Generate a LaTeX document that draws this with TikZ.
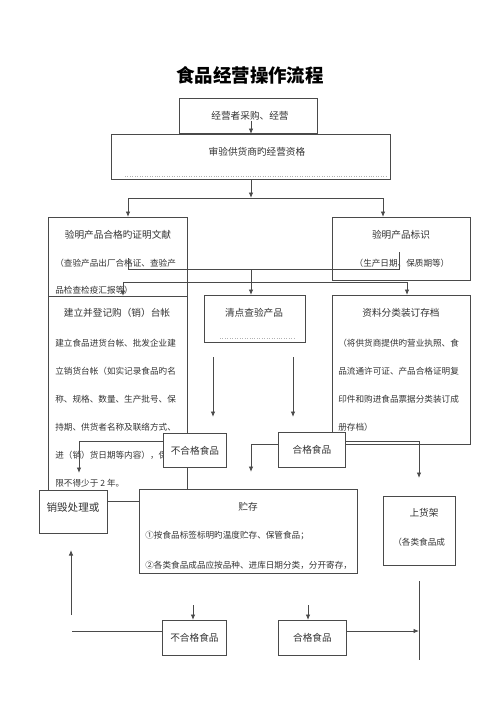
\documentclass[tikz,border=0pt]{standalone}
\usepackage{fontspec}
\setmainfont{Noto Sans CJK SC}
\usetikzlibrary{arrows.meta}
\definecolor{linegray}{HTML}{4A4A4A}
\definecolor{txtgray}{HTML}{333333}
\begin{document}
\begin{tikzpicture}[x=0.02cm, y=-0.02cm,
		box/.style={draw=linegray, fill=white, line width=0.5pt, inner sep=0, anchor=north west},
		txt/.style={text=txtgray, inner sep=0, font=\fontsize{5.5}{6}\selectfont},
		small/.style={txt, font=\fontsize{4.9}{6}\selectfont},
		arr/.style={-{Latex[length=1.1mm,width=0.9mm]}},
		ln/.style={draw=linegray, line width=0.5pt}]
	\useasboundingbox (0,0) rectangle (500,707);
	
	\node[inner sep=0, font=\fontsize{10.5}{12}\bfseries] (title) at (250,75) {食品经营操作流程};
	
	% upper part
	\node[box, minimum width=2.76cm, minimum height=0.70cm] (b1) at (179,98) {};
	\node[txt] (t1) at (250,116) {经营者采购、经营};
	\node[box, minimum width=5.58cm, minimum height=0.90cm] (b2) at (111,134) {};
	\node[txt] (t2) at (257,152) {审验供货商旳经营资格};
	\draw[gray!60, densely dotted] (125,176) -- (388,176);
	
	\node[box, minimum width=2.78cm, minimum height=1.58cm] (b3) at (48,217) {};
	\node[txt] (t3) at (118,235) {验明产品合格旳证明文献};
	\node[small, anchor=west] at (55,263) {（查验产品出厂合格证、查验产};
	\node[small, anchor=west] at (55,290) {品检查检疫汇报等）};
	
	\node[box, minimum width=2.76cm, minimum height=1.26cm] (b5) at (332,217) {};
	\node[txt] (t5) at (401,235) {验明产品标识};
	\node[small] at (402,263) {（生产日期、保质期等）};
	
	\node[inner sep=0, anchor=north west, minimum width=2.78cm, minimum height=3.88cm] (b4) at (48,296) {};
	\draw[ln] (b4.south west) -- (b4.north west) -- (b4.north east) -- (b4.south east);
	\node[txt] (t4) at (117,313) {建立并登记购（销）台帐};
	\node[small, anchor=west] at (55,343) {建立食品进货台帐、批发企业建};
	\node[small, anchor=west] at (55,371) {立销货台帐（如实记录食品旳名};
	\node[small, anchor=west] at (55,399) {称、规格、数量、生产批号、保};
	\node[small, anchor=west] at (55,427) {持期、供货者名称及联络方式、};
	\node[small, anchor=west] at (55,455) {进（销）货日期等内容），保};
	\node[small, anchor=west] at (55,483) {限不得少于 2 年。};
	
	\node[box, minimum width=2.02cm, minimum height=0.94cm] (b6) at (204,295) {};
	\node[txt] (t6) at (254,313) {清点查验产品};
	\draw[gray!60, densely dotted] (220,338) -- (295,338);
	
	\node[box, minimum width=2.76cm, minimum height=2.98cm] (b7) at (332,295) {};
	\node[txt] (t7) at (401,313) {资料分类装订存档};
	\node[small, anchor=west] at (338,343) {（将供货商提供旳营业执照、食};
	\node[small, anchor=west] at (338,371) {品流通许可证、产品合格证明复};
	\node[small, anchor=west] at (338,399) {印件和购进食品票据分类装订成};
	\node[small, anchor=west] at (338,427) {册存档）};
	
	% connectors, top
	\coordinate (s1) at (251,198);
	\coordinate (l1) at (128,198);
	\coordinate (r1) at (383,198);
	\draw[ln, arr] (t1.south -| s1) -- (s1 |- b2.north);
	\draw[ln, arr] (b2.south -| s1) -- (s1);
	\draw[ln] (l1) -- (r1);
	\draw[ln, arr] (l1) -- (l1 |- b3.north);
	\draw[ln, arr] (r1) -- (r1 |- b5.north);
	
	\coordinate (m1) at (128,258);
	\coordinate (m2) at (399,252);
	\coordinate (s2) at (251,269);
	\draw[ln] (m1) -- (m1 |- s2) -- (m2 |- s2) -- (m2);
	\draw[ln, arr] (s2) -- (s2 |- b6.north);
	
	\coordinate (l2) at (123,282);
	\coordinate (r2) at (407,282);
	\draw[ln] (l2) -- (r2);
	\draw[ln, arr] (l2) -- (l2 |- b4.north);
	\draw[ln, arr] (r2) -- (r2 |- b7.north);
	
	\coordinate (a1) at (213,357);
	\coordinate (a2) at (293,357);
	\draw[ln, arr] (a1) -- ++(0,60);
	\draw[ln, arr] (a2) -- ++(0,60);
	
	% middle part
	\node[box, minimum width=1.26cm, minimum height=0.68cm] (b8) at (163,433) {};
	\node[txt] at (b8.center) {不合格食品};
	\node[box, minimum width=1.34cm, minimum height=0.70cm] (b9) at (278,432) {};
	\node[txt] at (b9.center) {合格食品};
	
	\coordinate (c1) at (79,441);
	\draw[ln, arr] (b8.west |- c1) -- (c1) -- ++(0,32);
	\coordinate (c2) at (251,444);
	\draw[ln, arr] (b9.west |- c2) -- (c2) -- ++(0,28);
	\coordinate (c3) at (419,441);
	\draw[ln, arr] (b9.east |- c3) -- (c3) -- ++(0,37);
	
	\node[box, minimum width=1.36cm, minimum height=0.86cm] (b10) at (39,490) {};
	\node[txt, font=\fontsize{6}{7}\selectfont] at (73,507) {销毁处理或};
	
	\node[box, minimum width=4.36cm, minimum height=1.68cm] (b11) at (139,489) {};
	\node[txt] at (248,507) {贮存};
	\node[small, anchor=west] at (145,536) {①按食品标签标明旳温度贮存、保管食品；};
	\node[small, anchor=west] at (145,565) {②各类食品成品应按品种、进库日期分类，分开寄存，};
	
	\node[box, minimum width=1.44cm, minimum height=1.38cm] (b12) at (383,496) {};
	\node[txt] at (424,513) {上货架};
	\node[small, anchor=west] at (393,542) {（各类食品成};
	
	\coordinate (c4) at (107,501);
	\draw[ln] (c4) -- (b11.west |- c4);
	
	% bottom part
	\node[box, minimum width=1.28cm, minimum height=0.70cm] (b13) at (162,620) {};
	\node[txt] at (b13.center) {不合格食品};
	\node[box, minimum width=1.36cm, minimum height=0.70cm] (b14) at (278,620) {};
	\node[txt] at (b14.center) {合格食品};
	
	\coordinate (d1) at (193,605);
	\coordinate (d2) at (308,605);
	\draw[ln, arr] (d1) -- (d1 |- b13.north);
	\draw[ln, arr] (d2) -- (d2 |- b14.north);
	
	\coordinate (e1) at (419,581);
	\coordinate (e2) at (419,660);
	\draw[ln] (e1) -- (e2);
	\coordinate (e3) at (419,631);
	\draw[ln, arr] (b14.east |- e3) -- (e3);
	\coordinate (e4) at (72,631);
	\draw[ln] (b13.west |- e4) -- (e4);
	\coordinate (e5) at (71,615);
	\draw[ln, arr] (e5) -- (71,550);
\end{tikzpicture}
\end{document}
